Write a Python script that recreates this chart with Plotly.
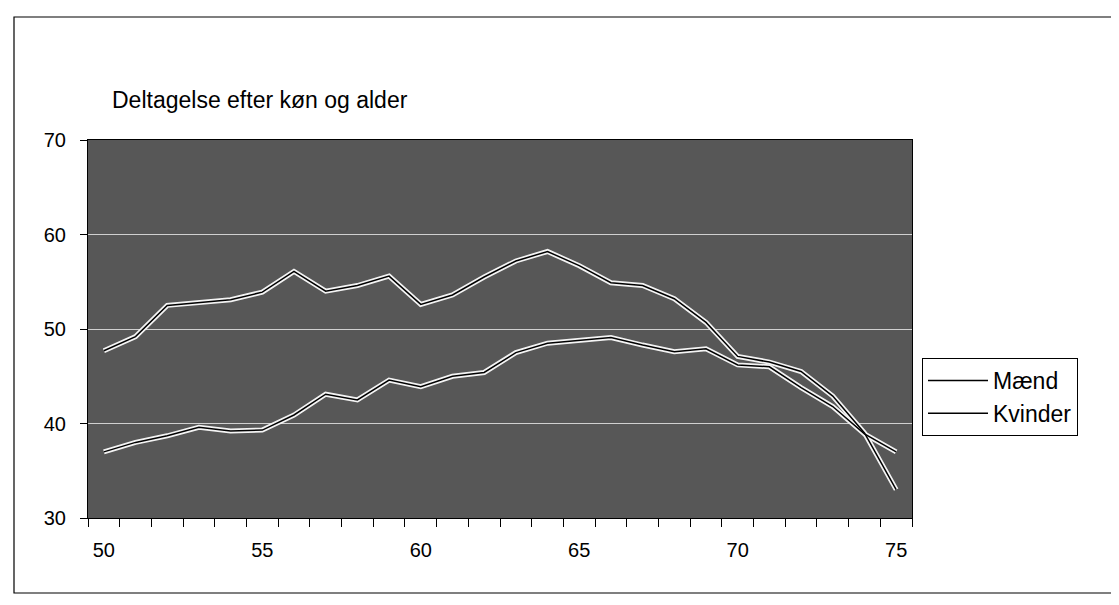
import plotly.graph_objects as go

ages = list(range(50, 76))
maend = [37.0, 38.0, 38.7, 39.6, 39.2, 39.3, 40.9, 43.1, 42.5, 44.6, 43.9, 45.0, 45.4,
         47.5, 48.5, 48.8, 49.1, 48.3, 47.6, 47.9, 46.2, 46.0, 43.8, 41.8, 38.9, 37.0]
kvinder = [47.7, 49.2, 52.5, 52.8, 53.1, 53.9, 56.1, 54.0, 54.6, 55.6, 52.6, 53.6, 55.5,
           57.2, 58.2, 56.7, 54.9, 54.6, 53.2, 50.7, 47.1, 46.5, 45.5, 42.9, 39.0, 33.0]
series_names = ["Mænd", "Kvinder"]
x_ticks = [50, 55, 60, 65, 70, 75]
y_ticks = [30, 40, 50, 60, 70]
title_text = "Deltagelse efter køn og alder"

FONT = "Liberation Sans, Arial, sans-serif"

fig = go.Figure()
for name, vals in zip(series_names, [maend, kvinder]):
    fig.add_trace(go.Scatter(x=ages, y=vals, mode="lines", showlegend=False,
                             hoverinfo="skip",
                             line=dict(color="#f4f4f4", width=5)))
for name, vals in zip(series_names, [maend, kvinder]):
    fig.add_trace(go.Scatter(x=ages, y=vals, mode="lines", name=name,
                             line=dict(color="#000000", width=1.5)))

# page body has an 8px margin; work in page pixels and subtract it
OFF = 8
W, H = 1119 - OFF, 605 - OFF
L, T = 88 - OFF, 140 - OFF
Rpx, Bpx = 912 - OFF, 518 - OFF
R, B = W - Rpx, H - Bpx
pw = Rpx - L
ph = Bpx - T

def px_x(p):
    return (p - OFF - L) / pw

def px_y(p):
    return (Bpx - (p - OFF)) / ph

fig.update_layout(
    width=W, height=H,
    margin=dict(l=L, r=R, t=T, b=B),
    paper_bgcolor="white",
    plot_bgcolor="#575757",
    font=dict(family=FONT, color="black", size=20),
    title=dict(text=title_text, x=(112 - OFF) / W, xanchor="left", xref="container",
               y=1 - (100 - OFF) / H, yanchor="middle", yref="container",
               font=dict(family=FONT, size=23, color="black")),
    xaxis=dict(range=[49.5, 75.5], tickmode="array", tickvals=x_ticks,
               ticktext=[str(v) for v in x_ticks], ticks="", showgrid=False,
               showline=True, linecolor="black", linewidth=1.2, mirror=True,
               zeroline=False, ticklabelstandoff=14,
               tickfont=dict(size=20, family=FONT),
               minor=dict(tick0=49.5, dtick=1, ticks="outside", ticklen=8,
                          tickcolor="black", showgrid=False)),
    yaxis=dict(range=[30, 70], tickmode="array", tickvals=y_ticks,
               ticks="outside", ticklen=7, tickcolor="black",
               showgrid=True, gridcolor="#d0d0d0", gridwidth=1,
               showline=True, linecolor="black", linewidth=1.2, mirror=True,
               zeroline=False, ticklabelstandoff=10,
               tickfont=dict(size=20, family=FONT)),
    legend=dict(x=px_x(922), y=px_y(358), xanchor="left", yanchor="top",
                bordercolor="black", borderwidth=1, bgcolor="white",
                font=dict(size=23, family=FONT), itemwidth=60,
                tracegroupgap=4),
    shapes=[dict(type="rect", xref="paper", yref="paper",
                 x0=px_x(14), x1=px_x(1113), y0=px_y(593), y1=px_y(17),
                 line=dict(color="black", width=1.2), fillcolor="rgba(0,0,0,0)",
                 layer="below")],
    showlegend=True,
)

fig.write_html("out.html")
